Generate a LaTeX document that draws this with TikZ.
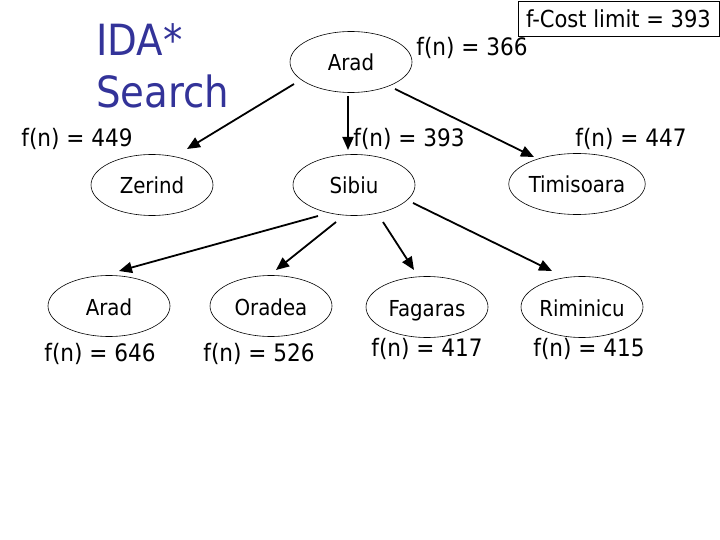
\documentclass[tikz,border=0pt]{standalone}
\usepackage{fontspec}
\setmainfont{DejaVu Sans Condensed}
\usetikzlibrary{shapes.geometric,arrows.meta}
\definecolor{titleblue}{RGB}{51,51,153}
\begin{document}
\begin{tikzpicture}[x=1pt,y=-1pt,
  city/.style={draw, ellipse, line width=0.6pt, minimum width=122pt, minimum height=61pt, inner sep=0pt, text height=18pt, text depth=0pt, font=\fontsize{22}{24}\selectfont},
  lbl/.style={font=\fontsize{24}{26}\selectfont, inner sep=0pt},
  arr/.style={line width=1.8pt, -{Triangle[length=13pt,width=11pt]}}]
\useasboundingbox (0,0) rectangle (720,540);
% title
\node[lbl, anchor=west, text=titleblue, font=\fontsize{43}{52}\selectfont, align=left] (title) at (96,66) {IDA*\\Search};
% limit box
\node[draw, line width=0.6pt, minimum width=201pt, minimum height=35pt, inner sep=0pt, font=\fontsize{23.4}{26}\selectfont] (limit) at (618.5,18.5) {f-Cost limit = 393};
% nodes
\node[city] (arad) at (351,62) {Arad};
\node[city] (zerind) at (152,185) {Zerind};
\node[city] (sibiu) at (354,185) {Sibiu};
\node[city] (tim) at (577,184) {Timisoara};
\node[city] (arad2) at (109,306) {Arad};
\node[city] (oradea) at (271,306) {Oradea};
\node[city] (fag) at (427,307) {Fagaras};
\node[city] (rim) at (582,307) {Riminicu};
% labels
\node[lbl] (l366) at (472,48) {f(n) = 366};
\node[lbl] (l449) at (77,139) {f(n) = 449};
\node[lbl] (l393) at (409,139) {f(n) = 393};
\node[lbl] (l447) at (631,139) {f(n) = 447};
\node[lbl] (l646) at (100,354) {f(n) = 646};
\node[lbl] (l526) at (259,354) {f(n) = 526};
\node[lbl] (l417) at (427,349) {f(n) = 417};
\node[lbl] (l415) at (589,349) {f(n) = 415};
% arrows
\draw[arr] ([shift={(-57,22)}]arad.center) -- ([shift={(35,-36)}]zerind.center);
\draw[arr] ([shift={(-3,34)}]arad.center) -- ([shift={(-6,-35)}]sibiu.center);
\draw[arr] ([shift={(44,27)}]arad.center) -- ([shift={(-43,-27)}]tim.center);
\draw[arr] ([shift={(-36,31)}]sibiu.center) -- ([shift={(10,-35)}]arad2.center);
\draw[arr] ([shift={(-18,37)}]sibiu.center) -- ([shift={(5,-36)}]oradea.center);
\draw[arr] ([shift={(29,37)}]sibiu.center) -- ([shift={(-13,-37)}]fag.center);
\draw[arr] ([shift={(59,18)}]sibiu.center) -- ([shift={(-30,-36)}]rim.center);
\end{tikzpicture}
\end{document}
